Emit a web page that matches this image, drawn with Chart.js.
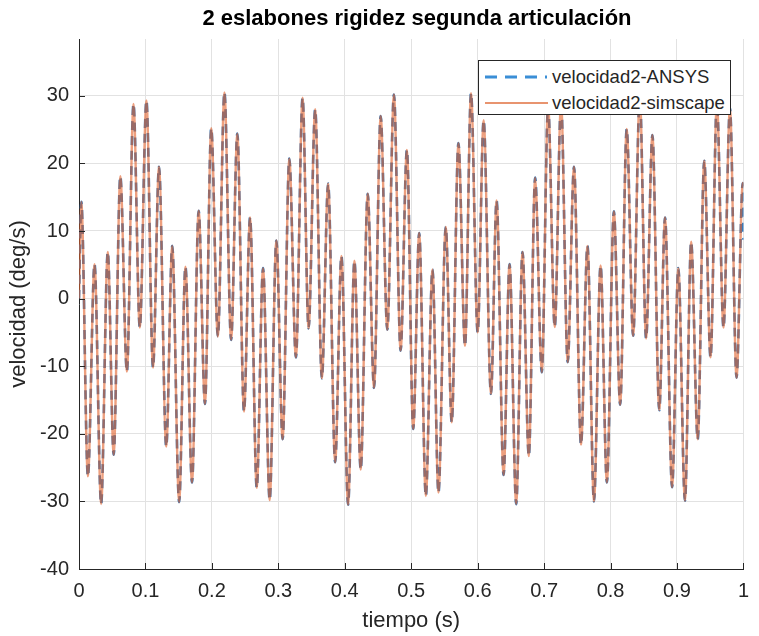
<!DOCTYPE html>
<html>
<head>
<meta charset="utf-8">
<script src="https://cdn.jsdelivr.net/npm/chart.js@4"></script>
<style>
  html, body { margin: 0; padding: 0; background: #ffffff; }
  #wrap { position: relative; width: 759px; height: 636px; background: #ffffff; }
  #chart { position: absolute; left: 0; top: 0; }
  #title { position: absolute; left: 79px; width: 676px; top: 5px; text-align: center;
           font: bold 22px "Liberation Sans", Arial, sans-serif; color: #000; line-height: 26px; white-space: nowrap; }
  #legend { position: absolute; left: 478px; top: 60px; width: 251px; height: 53px;
            border: 1px solid #262626; background: #ffffff; font: 18.5px "Liberation Sans", Arial, sans-serif; color: #262626; }
  .row { position: absolute; left: 0; height: 24px; width: 100%; }
  .row svg { position: absolute; left: 5px; top: 0; }
  .row span { position: absolute; left: 73px; top: 1px; line-height: 22px; white-space: nowrap; }
</style>
</head>
<body>
<div id="wrap">
  <canvas id="chart" width="759" height="636"></canvas>
  <div id="title">2 eslabones rigidez segunda articulación</div>
  <div id="legend">
    <div class="row" style="top:4px">
      <svg width="66" height="24"><line x1="1" y1="12" x2="63" y2="12" stroke="#3a8ed6" stroke-width="3" stroke-dasharray="12,8"/></svg>
      <span>velocidad2-ANSYS</span>
    </div>
    <div class="row" style="top:30px">
      <svg width="66" height="24"><line x1="1" y1="12" x2="64" y2="12" stroke="#e0703f" stroke-width="1.6"/></svg>
      <span>velocidad2-simscape</span>
    </div>
  </div>
</div>
<script>
// time (s) of each sample (extrema of the oscillation)
const tiempo = [
  0.0000, 0.0035, 0.0134, 0.0234, 0.0333, 0.0433, 0.0522, 0.0622, 0.0721, 0.0820,
  0.0915, 0.1015, 0.1114, 0.1204, 0.1313, 0.1403, 0.1507, 0.1602, 0.1701, 0.1801,
  0.1896, 0.1990, 0.2090, 0.2189, 0.2289, 0.2383, 0.2483, 0.2575, 0.2675, 0.2770,
  0.2870, 0.2970, 0.3065, 0.3165, 0.3265, 0.3365, 0.3455, 0.3555, 0.3655, 0.3750,
  0.3855, 0.3950, 0.4050, 0.4145, 0.4240, 0.4345, 0.4440, 0.4540, 0.4640, 0.4740,
  0.4840, 0.4935, 0.5030, 0.5120, 0.5220, 0.5320, 0.5410, 0.5520, 0.5610, 0.5710,
  0.5810, 0.5900, 0.6000, 0.6090, 0.6200, 0.6285, 0.6390, 0.6480, 0.6580, 0.6675,
  0.6770, 0.6865, 0.6965, 0.7060, 0.7160, 0.7255, 0.7355, 0.7450, 0.7555, 0.7653,
  0.7750, 0.7850, 0.7945, 0.8050, 0.8145, 0.8243, 0.8340, 0.8440, 0.8535, 0.8630,
  0.8733, 0.8820, 0.8926, 0.9020, 0.9120, 0.9213, 0.9312, 0.9410, 0.9505, 0.9600,
  0.9700, 0.9797, 0.9896, 0.9990, 1.0000
];
// velocidad2-ANSYS (deg/s)
const velAnsys = [
   0.0, 14.3, -26.3,  5.1, -30.4,  6.9, -23.1, 18.1, -10.8, 28.8,
  -4.3, 29.3, -10.2, 19.5, -21.9,  7.8, -30.1,  4.7, -27.2, 13.0,
 -15.6, 25.2,  -5.6, 30.5,  -6.1, 24.4, -16.7, 12.0, -28.0,  4.5,
 -29.8,  8.6, -20.8, 20.7,  -8.7, 29.7,  -4.4, 28.0, -11.8, 17.0,
 -24.2,  6.3, -30.5,  5.6, -25.3, 15.5, -13.2, 27.0,  -4.6, 30.2,
  -7.7, 22.0, -19.3,  9.7, -29.2,  4.3, -28.7, 10.6, -18.3, 23.0,
  -7.0, 30.4,  -5.0, 26.4, -14.1, 14.5, -26.1,  5.1, -30.4,  6.9,
 -23.3, 17.9, -10.9, 28.5,  -4.2, 29.0,  -9.4, 19.5, -21.6,  7.8,
 -30.0,  4.9, -27.2, 12.9, -15.7, 25.1,  -5.5, 30.0,  -5.9, 24.2,
 -16.5, 12.0, -27.9,  4.5, -29.9,  8.4, -20.8, 20.4,  -8.7, 29.0,
  -4.3, 28.2, -11.7, 17.1,   8.7
];
// velocidad2-simscape (deg/s)
const velSimscape = [
   0.0, 14.3, -26.3,  5.1, -30.4,  6.9, -23.1, 18.1, -10.8, 28.8,
  -4.3, 29.3, -10.2, 19.5, -21.9,  7.8, -30.1,  4.7, -27.2, 13.0,
 -15.6, 25.2,  -5.6, 30.5,  -6.1, 24.4, -16.7, 12.0, -28.0,  4.5,
 -29.8,  8.6, -20.8, 20.7,  -8.7, 29.7,  -4.4, 28.0, -11.8, 17.0,
 -24.2,  6.3, -30.5,  5.6, -25.3, 15.5, -13.2, 27.0,  -4.6, 30.2,
  -7.7, 22.0, -19.3,  9.7, -29.2,  4.3, -28.7, 10.6, -18.3, 23.0,
  -7.0, 30.4,  -5.0, 26.4, -14.1, 14.5, -26.1,  5.1, -30.4,  6.9,
 -23.3, 17.9, -10.9, 28.5,  -4.2, 29.0,  -9.4, 19.5, -21.6,  7.8,
 -30.0,  4.9, -27.2, 12.9, -15.7, 25.1,  -5.5, 30.0,  -5.9, 24.2,
 -16.5, 12.0, -27.9,  4.5, -29.9,  8.4, -20.8, 20.4,  -8.7, 29.0,
  -4.3, 28.2, -11.7, 17.1,  16.6
];
const xTicks = [0, 0.1, 0.2, 0.3, 0.4, 0.5, 0.6, 0.7, 0.8, 0.9, 1];
const yTicks = [-40, -30, -20, -10, 0, 10, 20, 30];
const xLimits = [0, 1];
const yLimits = [-40, 38.4];

const FONT = '"Liberation Sans", Arial, sans-serif';
const AX = '#262626';

const tickMarks = {
  id: 'tickMarks',
  afterDatasetsDraw(chart) {
    const { ctx, chartArea: a, scales: { x, y } } = chart;
    ctx.save();
    ctx.strokeStyle = AX;
    ctx.lineWidth = 1;
    ctx.beginPath();
    x.ticks.forEach(t => {
      const px = Math.round(x.getPixelForValue(t.value)) + 0.5;
      ctx.moveTo(px, a.bottom); ctx.lineTo(px, a.bottom - 6);
    });
    y.ticks.forEach(t => {
      const py = Math.round(y.getPixelForValue(t.value)) + 0.5;
      ctx.moveTo(a.left, py); ctx.lineTo(a.left + 6, py);
    });
    ctx.stroke();
    ctx.restore();
  }
};

new Chart(document.getElementById('chart'), {
  type: 'line',
  data: {
    datasets: [
      {
        label: 'velocidad2-ANSYS',
        data: tiempo.map((t, i) => ({ x: t, y: velAnsys[i] })),
        borderColor: 'rgba(30,110,185,0.9)',
        borderWidth: 2.6,
        borderDash: [9, 6],
        pointRadius: 0,
        cubicInterpolationMode: 'monotone',
        fill: false,
        order: 1
      },
      {
        label: 'velocidad2-simscape',
        data: tiempo.map((t, i) => ({ x: t, y: velSimscape[i] })),
        borderColor: 'rgba(225,95,40,0.6)',
        borderWidth: 2.4,
        pointRadius: 0,
        cubicInterpolationMode: 'monotone',
        fill: false,
        order: 0
      }
    ]
  },
  options: {
    responsive: false,
    animation: false,
    devicePixelRatio: 1,
    layout: { padding: { left: 0, right: 9, top: 39, bottom: 0 } },
    plugins: { legend: { display: false }, tooltip: { enabled: false }, title: { display: false } },
    scales: {
      x: {
        type: 'linear',
        min: xLimits[0], max: xLimits[1],
        afterBuildTicks: s => { s.ticks = xTicks.map(v => ({ value: v })); },
        afterFit: s => { s.height = 67; },
        ticks: {
          font: { family: FONT, size: 20 }, color: AX, padding: 10, maxRotation: 0,
          callback: v => String(Math.round(v * 10) / 10)
        },
        grid: { color: '#e2e2e2', lineWidth: 1, drawTicks: false },
        border: { display: true, color: AX, width: 1 },
        title: { display: true, text: 'tiempo (s)', font: { family: FONT, size: 22 }, color: AX, padding: { top: 0, bottom: 2 } }
      },
      y: {
        type: 'linear',
        min: yLimits[0], max: yLimits[1],
        afterBuildTicks: s => { s.ticks = yTicks.map(v => ({ value: v })); },
        afterFit: s => { s.width = 79; },
        ticks: { font: { family: FONT, size: 20 }, color: AX, padding: 10 },
        grid: { color: '#e2e2e2', lineWidth: 1, drawTicks: false },
        border: { display: true, color: AX, width: 1 },
        title: { display: true, text: 'velocidad (deg/s)', font: { family: FONT, size: 22 }, color: AX, padding: { top: 6, bottom: 0 } }
      }
    }
  },
  plugins: [tickMarks]
});
</script>
</body>
</html>
